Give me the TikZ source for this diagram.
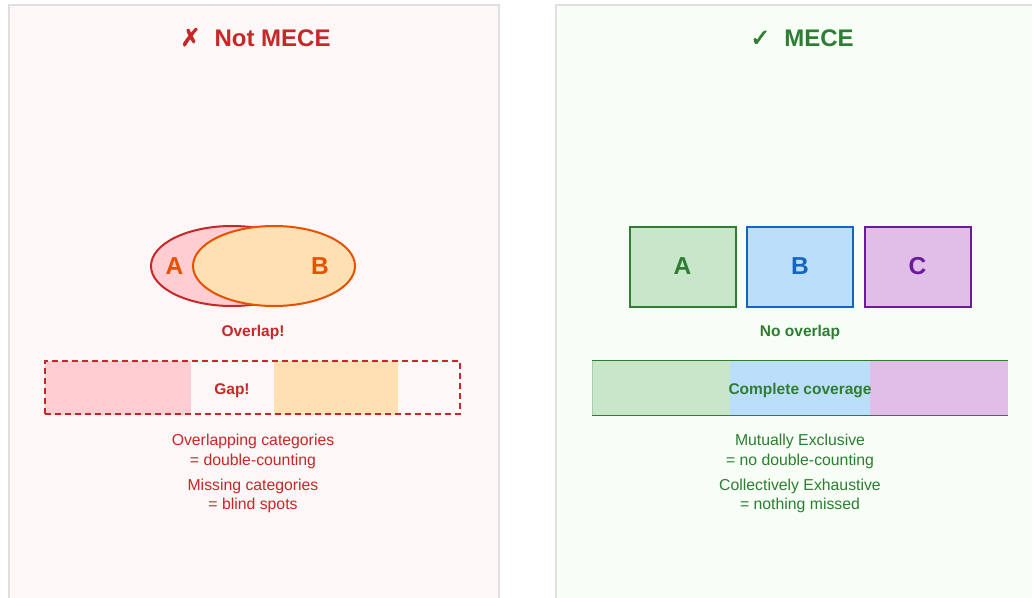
\documentclass[tikz,border=0pt]{standalone}
\usepackage{fontspec}
\setmainfont{Liberation Sans}
\newfontfamily\symfont[FakeBold=2.5]{DejaVu Sans}
\usetikzlibrary{shapes.geometric}

\definecolor{badred}{HTML}{C62828}
\definecolor{badorange}{HTML}{E65100}
\definecolor{pinkfill}{HTML}{FFCDD2}
\definecolor{orangefill}{HTML}{FFE0B2}
\definecolor{goodgreen}{HTML}{2E7D32}
\definecolor{goodblue}{HTML}{1565C0}
\definecolor{goodpurple}{HTML}{6A1B9A}
\definecolor{greenfill}{HTML}{C8E6C9}
\definecolor{bluefill}{HTML}{BBDEFB}
\definecolor{purplefill}{HTML}{E1BEE7}
\definecolor{panelpink}{HTML}{FDF7F7}
\definecolor{panelgreen}{HTML}{F6FEF6}
\definecolor{panelline}{HTML}{E0E0E0}

\tikzset{
  panel/.style={draw=panelline, line width=2pt},
  heading/.style={anchor=base, font=\fontsize{24}{28}\selectfont\bfseries, inner sep=0},
  bigletter/.style={font=\fontsize{24.5}{28}\selectfont\bfseries, inner sep=0},
  boldnote/.style={anchor=base, font=\fontsize{15.5}{18}\selectfont\bfseries, inner sep=0},
  plainnote/.style={anchor=base, font=\fontsize{15.8}{18}\selectfont, inner sep=0},
  catbox/.style={rectangle, line width=2pt, minimum width=106pt, minimum height=80pt, inner sep=0,
    font=\fontsize{24.5}{28}\selectfont\bfseries},
  band/.style={rectangle, inner sep=0, minimum height=54pt, anchor=west},
  venn/.style={ellipse, line width=2pt, minimum width=162pt, minimum height=80pt, inner sep=0},
}

\begin{document}
\begin{tikzpicture}[x=1pt, y=-1pt]
\useasboundingbox (0,0) rectangle (1032,597);
\clip (0,0) rectangle (1032,597);
\fill[white] (0,0) rectangle (1032,597);

% two panels
\node (leftpanel) [panel, fill=panelpink, rectangle, inner sep=0, minimum width=490pt, minimum height=620pt, anchor=north west] at (8,4) {};
\node (rightpanel) [panel, fill=panelgreen, rectangle, inner sep=0, minimum width=490pt, minimum height=620pt, anchor=north west] at (555,4) {};

% ---------- left: not MECE ----------
\node (badtitle) [heading, text=badred] at (255.5,46) {{\symfont\fontsize{24}{28}\selectfont ✗}\hspace{14pt}Not MECE};

\node (ellA) [venn, draw=badred, fill=pinkfill] at (232,266) {};
\node (ellB) [venn, draw=badorange, fill=orangefill] at (274,266) {};
\node (labA) [bigletter, text=badorange] at (174.5,266) {A};
\node (labB) [bigletter, text=badorange] at (320,266) {B};
\node (overlap) [boldnote, text=badred] at (253,336) {Overlap!};

\node (segA) [band, fill=pinkfill, minimum width=146pt] at (45,387.5) {};
\node (segB) [band, fill=orangefill, minimum width=124pt] at (274,387.5) {};
\node (gapframe) [rectangle, draw=badred, line width=1.5pt, dash pattern=on 6pt off 4pt, minimum width=415pt, minimum height=53pt, inner sep=0] at (252.5,387.5) {};
\node (gap) [boldnote, text=badred] at (232,394) {Gap!};

\node (badl1) [plainnote, text=badred] at (253,445.5) {Overlapping categories};
\node (badl2) [plainnote, text=badred] at (253,465) {= double-counting};
\node (badl3) [plainnote, text=badred] at (253,490) {Missing categories};
\node (badl4) [plainnote, text=badred] at (253,509.5) {= blind spots};

% ---------- right: MECE ----------
\node (goodtitle) [heading, text=goodgreen] at (802,46) {{\symfont\fontsize{24}{28}\selectfont ✓}\hspace{14pt}MECE};

\node (boxA) [catbox, draw=goodgreen, fill=greenfill, text=goodgreen] at (682.5,266.5) {A};
\node (boxB) [catbox, draw=goodblue, fill=bluefill, text=goodblue] at (800,266.5) {B};
\node (boxC) [catbox, draw=goodpurple, fill=purplefill, text=goodpurple] at (917.5,266.5) {C};
\node (nooverlap) [boldnote, text=goodgreen] at (800,336) {No overlap};

\node (covframe) [rectangle, draw=goodgreen!40, line width=0.8pt, minimum width=415pt, minimum height=54pt, inner sep=0] at (800,387.5) {};
\node (covA) [band, fill=greenfill, minimum width=138pt] at (592.5,387.5) {};
\node (covB) [band, fill=bluefill, minimum width=140pt] at (730,387.5) {};
\node (covC) [band, fill=purplefill, minimum width=138pt] at (870,387.5) {};
\draw[goodgreen, line width=0.8pt] (covframe.north west) -- (covframe.north east);
\draw[goodgreen, line width=0.8pt] (covframe.south west) -- (covframe.south east);
\node (coverage) [boldnote, text=goodgreen] at (800,394) {Complete coverage};

\node (goodl1) [plainnote, text=goodgreen] at (800,445.5) {Mutually Exclusive};
\node (goodl2) [plainnote, text=goodgreen] at (800,465) {= no double-counting};
\node (goodl3) [plainnote, text=goodgreen] at (800,490) {Collectively Exhaustive};
\node (goodl4) [plainnote, text=goodgreen] at (800,509.5) {= nothing missed};
\end{tikzpicture}
\end{document}
